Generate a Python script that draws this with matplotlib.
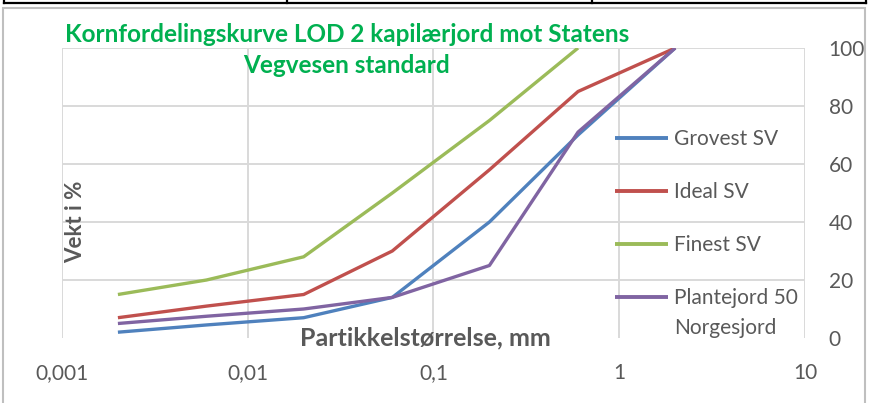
import matplotlib.pyplot as plt
from matplotlib.lines import Line2D
from matplotlib.patches import Rectangle

# sieve sizes (mm) and passing (%)
size_mm = [0.002, 0.006, 0.02, 0.06, 0.2, 0.6, 2]
grovest = [2, 4.5, 7, 14, 40, 70, 100]
ideal = [7, 11, 15, 30, 58, 85, 100]
finest = [15, 20, 28, 50, 75, 100, None]
plante = [5, 7.5, 10, 14, 25, 71, 100]

series_names = ['Grovest SV', 'Ideal SV', 'Finest SV', 'Plantejord 50']
series_colors = ['#4F81BD', '#C0504D', '#9BBB59', '#8064A2']

x_ticks = [0.001, 0.01, 0.1, 1, 10]
x_ticklabels = ['0,001', '0,01', '0,1', '1', '10']
y_ticks = [0, 20, 40, 60, 80, 100]

plt.rcParams['font.family'] = ['Lato', 'DejaVu Sans']
txt = '#595959'
grid = '#D9D9D9'

W, H = 870, 403
fig = plt.figure(figsize=(W / 100, H / 100), dpi=100)

# outer chart border and the table strip above it
fig.patches.append(Rectangle((3 / W, -0.1), 862 / W, (H - 8) / H + 0.1, transform=fig.transFigure,
                             fill=False, edgecolor='#BFBFBF', lw=1.5))
fig.add_artist(Line2D([4 / W, 866 / W], [1 - 3 / H, 1 - 3 / H], transform=fig.transFigure, color='black', lw=1.6))
for px in [4, 287, 592, 866]:
    fig.add_artist(Line2D([px / W, px / W], [1 - 3 / H, 1], transform=fig.transFigure, color='black', lw=1.6))

ax = fig.add_axes([62 / W, (H - 338) / H, (805 - 62) / W, (338 - 48) / H])

all_series = [grovest, ideal, finest, plante]
for vals, name, col in zip(all_series, series_names, series_colors):
    xs = [x for x, v in zip(size_mm, vals) if v is not None]
    ys = [v for v in vals if v is not None]
    ax.plot(xs, ys, color=col, lw=2.4, label=name, solid_capstyle='butt', zorder=3)

ax.set_xscale('log')
ax.set_xlim(0.001, 10)
ax.set_ylim(0, 100)
ax.set_xticks(x_ticks)
ax.set_xticklabels(x_ticklabels)
ax.minorticks_off()
ax.set_yticks(y_ticks)
ax.yaxis.tick_right()
for s in ax.spines.values():
    s.set_visible(False)
ax.tick_params(axis='both', length=0, labelsize=15, labelcolor=txt)
ax.tick_params(axis='x', pad=18)
ax.tick_params(axis='y', pad=17)
for lab in ax.get_yticklabels():
    lab.set_horizontalalignment('left')

for yv in y_ticks[1:]:
    ax.axhline(yv, color=grid, lw=1.4, zorder=1)
for xv in x_ticks:
    ax.axvline(xv, color=grid, lw=1.4, zorder=1)

ax.text(0.019, 0.4, 'Vekt i %', transform=ax.transAxes, rotation=90, ha='center', va='center',
        fontsize=16, fontweight='bold', color=txt)
ax.text(0.4886, 0.0, 'Partikkelstørrelse, mm', transform=ax.transAxes, ha='center', va='center',
        fontsize=18, fontweight='bold', color=txt)

fig.text(347 / W, 1 - 50 / H, 'Kornfordelingskurve LOD 2 kapilærjord mot Statens\nVegvesen standard',
         ha='center', va='center', fontsize=17.5, fontweight='bold', color='#00B050', linespacing=1.45)

leg = ax.legend(loc='upper left', bbox_to_anchor=((615 - 62) / (805 - 62), 1 - (129 - 48) / 290),
                frameon=False, fontsize=15, labelcolor=txt, handlelength=2.55, handletextpad=0.3,
                labelspacing=1.59, borderpad=0, borderaxespad=0)
for h in leg.get_lines():
    h.set_linewidth(2.8)
# second line of the last legend label, placed under "Plantejord 50"
ax.text((674 - 62) / (805 - 62), (338 - 328) / 290, 'Norgesjord', transform=ax.transAxes,
        ha='left', va='center', fontsize=15, color=txt)

fig.savefig('out.png', dpi=100)
